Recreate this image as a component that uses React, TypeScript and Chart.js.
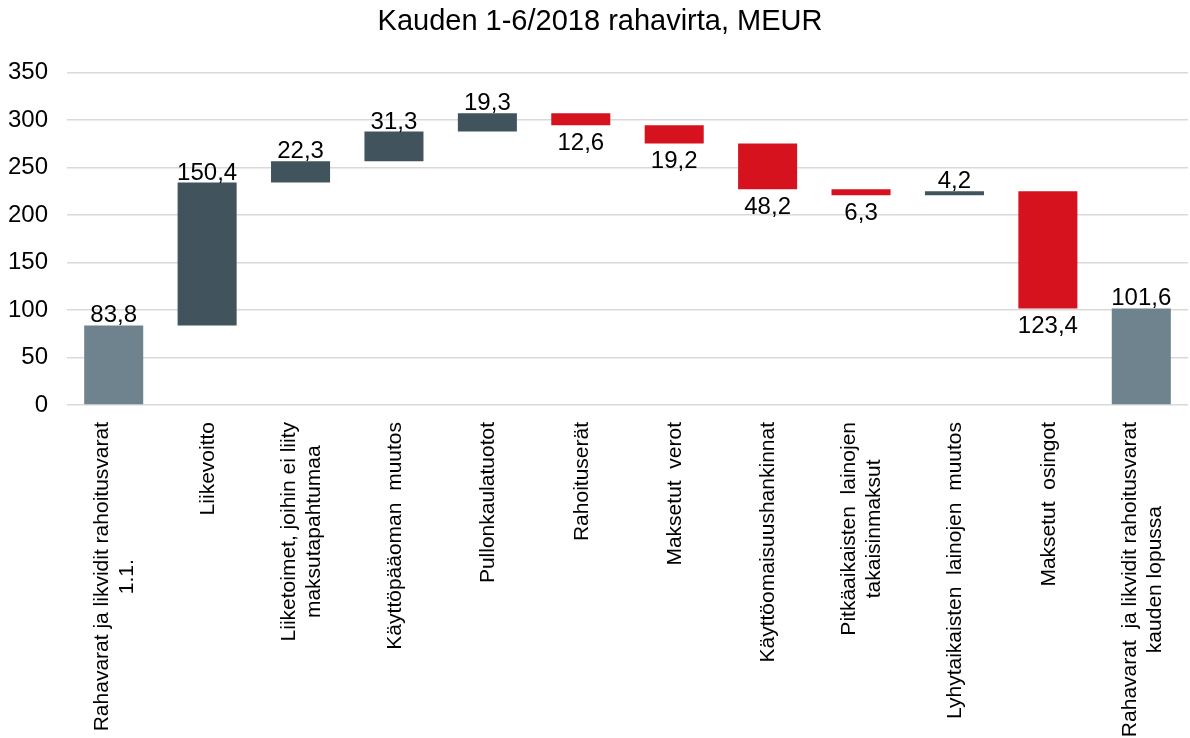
import React, { useEffect, useRef } from "react";
import { Chart, registerables } from "chart.js";

Chart.register(...registerables);

const TITLE = "Kauden 1-6/2018 rahavirta, MEUR";

const categories: string[][] = [
  ["Rahavarat ja likvidit rahoitusvarat", "1.1."],
  ["Liikevoitto"],
  ["Liiketoimet, joihin ei liity", "maksutapahtumaa"],
  ["Käyttöpääoman  muutos"],
  ["Pullonkaulatuotot"],
  ["Rahoituserät"],
  ["Maksetut  verot"],
  ["Käyttöomaisuushankinnat"],
  ["Pitkäaikaisten  lainojen", "takaisinmaksut"],
  ["Lyhytaikaisten  lainojen  muutos"],
  ["Maksetut  osingot"],
  ["Rahavarat  ja likvidit rahoitusvarat", "kauden lopussa"],
];

const startValue = 83.8;
const changes = [150.4, 22.3, 31.3, 19.3, -12.6, -19.2, -48.2, -6.3, 4.2, -123.4];
const endValue = 101.6;

const yMin = 0;
const yMax = 350;
const yStep = 50;

const COLOR_TOTAL = "#6e838e";
const COLOR_UP = "#41545e";
const COLOR_DOWN = "#d6121f";
const FONT = '"Liberation Sans", Arial, sans-serif';

// Build floating bar ranges from the values
const ranges: [number, number][] = [];
const kinds: string[] = [];
const shownValues: number[] = [];
ranges.push([0, startValue]);
kinds.push("total");
shownValues.push(startValue);
let acc = startValue;
for (const c of changes) {
  ranges.push([acc, acc + c]);
  kinds.push(c >= 0 ? "up" : "down");
  shownValues.push(Math.abs(c));
  acc += c;
}
ranges.push([0, endValue]);
kinds.push("total");
shownValues.push(endValue);

const barColors = kinds.map((k) =>
  k === "total" ? COLOR_TOTAL : k === "up" ? COLOR_UP : COLOR_DOWN
);

const fmt = (v: number) => v.toFixed(1).replace(".", ",");

const titlePlugin = {
  id: "customTitle",
  afterDraw(chart: any) {
    const ctx = chart.ctx;
    ctx.save();
    ctx.font = `29px ${FONT}`;
    ctx.fillStyle = "#000";
    ctx.textAlign = "center";
    ctx.textBaseline = "alphabetic";
    ctx.fillText(TITLE, 600, 30);
    ctx.restore();
  },
};

const valueLabelPlugin = {
  id: "valueLabels",
  afterDatasetsDraw(chart: any) {
    const ctx = chart.ctx;
    const yScale = chart.scales.y;
    const meta = chart.getDatasetMeta(0);
    ctx.save();
    ctx.font = `24px ${FONT}`;
    ctx.fillStyle = "#000";
    ctx.textAlign = "center";
    ctx.textBaseline = "alphabetic";
    meta.data.forEach((el: any, i: number) => {
      const [a, b] = ranges[i];
      const hi = Math.max(a, b);
      const lo = Math.min(a, b);
      const txt = fmt(shownValues[i]);
      if (kinds[i] === "down") {
        ctx.fillText(txt, el.x, yScale.getPixelForValue(lo) + 25);
      } else {
        ctx.fillText(txt, el.x, yScale.getPixelForValue(hi) - 3);
      }
    });
    ctx.restore();
  },
};

const categoryLabelPlugin = {
  id: "categoryLabels",
  afterDraw(chart: any) {
    const ctx = chart.ctx;
    const xScale = chart.scales.x;
    const topY = 422;
    const lineH = 25;
    ctx.save();
    ctx.font = `21px ${FONT}`;
    ctx.fillStyle = "#000";
    ctx.textAlign = "center";
    ctx.textBaseline = "middle";
    categories.forEach((lines, i) => {
      const tx = xScale.getPixelForValue(i);
      const w = Math.max(...lines.map((l) => ctx.measureText(l).width));
      ctx.save();
      ctx.translate(tx, 0);
      ctx.rotate(-Math.PI / 2);
      const n = lines.length;
      lines.forEach((line, j) => {
        const off = (j - (n - 1) / 2) * lineH;
        ctx.fillText(line, -(topY + w / 2), off + 1);
      });
      ctx.restore();
    });
    ctx.restore();
  },
};

export default function App() {
  const canvasRef = useRef<HTMLCanvasElement | null>(null);

  useEffect(() => {
    if (!canvasRef.current) return;
    const chart = new Chart(canvasRef.current, {
      type: "bar",
      data: {
        labels: categories.map((c) => c.join(" ")),
        datasets: [
          {
            data: ranges as any,
            backgroundColor: barColors,
            borderWidth: 0,
            barPercentage: 0.632,
            categoryPercentage: 1,
          },
        ],
      },
      options: {
        responsive: false,
        maintainAspectRatio: false,
        animation: false,
        devicePixelRatio: 1,
        layout: { padding: { top: 72.5, left: 0, right: 2, bottom: 333 } },
        plugins: {
          legend: { display: false },
          tooltip: { enabled: false },
          title: { display: false },
        },
        scales: {
          x: {
            display: false,
            grid: { display: false },
          },
          y: {
            min: yMin,
            max: yMax,
            afterFit(scale: any) {
              scale.width = 67;
            },
            ticks: {
              stepSize: yStep,
              color: "#000",
              font: { size: 24, family: FONT },
              padding: 19,
            },
            grid: { color: "#d9d9d9", lineWidth: 1.5, drawTicks: false },
            border: { display: false },
          },
        },
      },
      plugins: [titlePlugin, valueLabelPlugin, categoryLabelPlugin],
    });
    return () => chart.destroy();
  }, []);

  return (
    <div style={{ position: "fixed", left: 0, top: 0, width: 1190, height: 738, background: "#fff" }}>
      <canvas ref={canvasRef} width={1190} height={738} style={{ display: "block" }} />
    </div>
  );
}
